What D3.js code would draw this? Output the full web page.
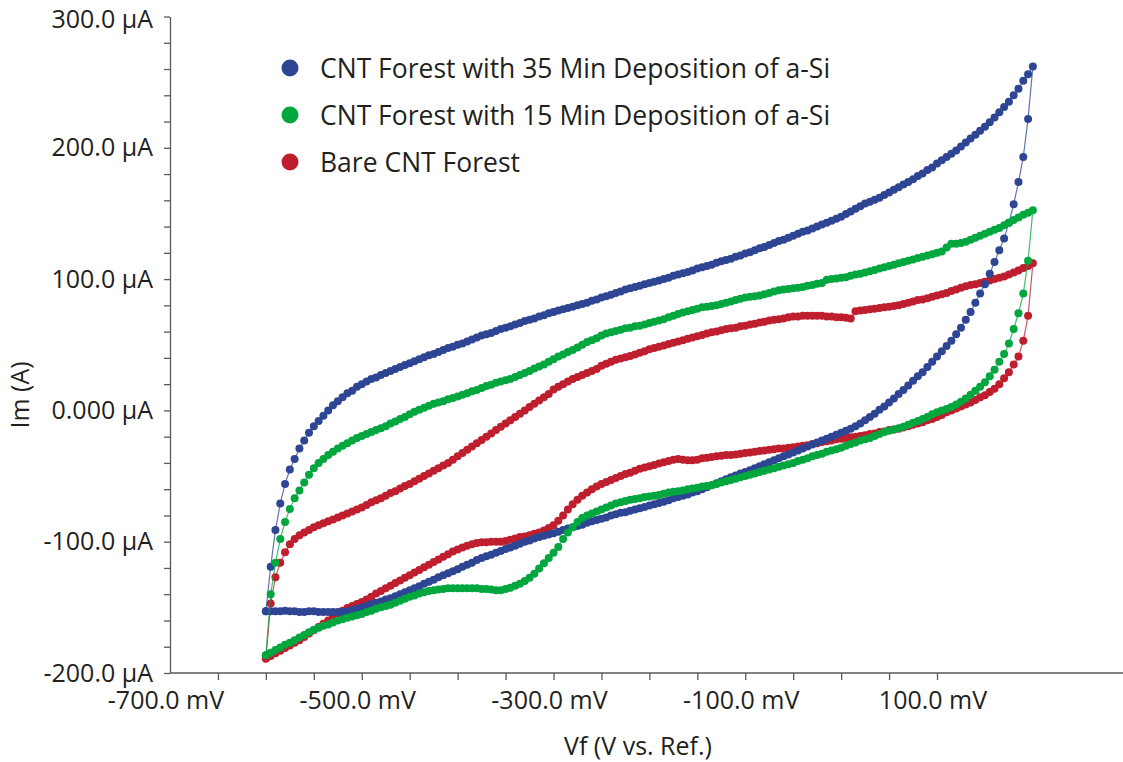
<!DOCTYPE html>
<html>
<head>
<meta charset="utf-8">
<script src="https://cdn.jsdelivr.net/npm/d3@7"></script>
<style>
  body { margin: 0; background: #fff; }
  text { font-family: "Open Sans", sans-serif; fill: #231f20; }
</style>
</head>
<body>
<div id="app"></div>
<script>
// scan potentials (mV), 5 mV steps: forward -600 -> 200, reverse 195 -> -600
const scanStep = 5
const sweepUp = d3.range(-600, 201, scanStep)
const sweepDown = d3.range(195, -601, -scanStep)

// currents (µA)
const blueUp = [
  -153, -119, -91, -71, -56, -45, -37, -29, -23, -17,
  -12, -8, -4, 0, 4, 7, 10, 13, 15, 18,
  20, 22, 24, 25, 27, 28.5, 30, 31.5, 33, 34.5,
  36, 37.5, 39, 40.5, 42, 43, 44.5, 46, 47.5, 48.5,
  50, 51, 52.5, 54, 55.5, 57, 58, 59, 60.5, 62,
  63, 64, 65.5, 66.5, 68, 69, 70, 71.5, 72.5, 74,
  75, 76, 77, 78, 79, 80, 81, 82, 83.5, 84.5,
  86, 87, 88, 89.5, 90.5, 92, 93, 94, 95, 96,
  97, 98, 99, 100, 101, 102.5, 103.5, 104.5, 105.5, 106.5,
  108, 109, 110, 111, 112.5, 113.5, 114.5, 115.5, 117, 118,
  119.5, 120.5, 122, 123.5, 124.5, 126, 127.5, 129, 130, 131.5,
  133, 134.5, 136, 137, 138.5, 140, 141.5, 143, 144.5, 146,
  147.5, 149.5, 151.5, 153.5, 155.5, 157.5, 159, 160.5, 162, 164,
  166, 168, 170, 172, 174, 176, 178.5, 180.5, 183, 185,
  188, 190.5, 193, 195.5, 198, 201, 204, 207, 210, 213,
  216, 219.5, 223, 227, 231, 235, 240, 245, 251, 256,
  262
]
const blueDown = [
  222, 193, 174, 157, 143, 131, 122, 113, 104, 96,
  89, 82, 75, 69, 63, 58, 53, 49, 45, 41,
  37, 33, 29, 26, 22.5, 19, 15.5, 12.5, 9, 6,
  3, 0.5, -2.5, -5, -7.5, -10, -12, -14, -15.5, -17,
  -18.5, -20, -21.5, -23, -24.5, -26, -27.5, -29, -30.5, -32,
  -33.5, -35, -36.5, -38, -39.5, -41, -42.5, -44, -45.5, -47,
  -48, -49.5, -51, -52.5, -54, -55.5, -57, -58.5, -60, -61.5,
  -62.5, -64, -65, -66, -67, -68.5, -69.5, -70.5, -71.5, -72.5,
  -73.5, -74.5, -75.5, -76.5, -77.5, -78, -79, -80, -81.5, -82.5,
  -83.5, -84.5, -85.5, -87, -88, -89, -90, -91, -92.5, -93.5,
  -94.5, -95.5, -96.5, -97.5, -99, -100, -101.5, -103, -104.5, -105.5,
  -107, -108.5, -110, -111, -112.5, -114, -116, -117.5, -119, -121,
  -122.5, -124, -125.5, -127, -129, -130.5, -132, -134, -135.5, -137,
  -138.5, -140, -141.5, -143, -144, -145.5, -146.5, -147.5, -149, -150,
  -151, -152, -153, -153.5, -153.5, -153.5, -153.5, -153.5, -153.5, -153,
  -153, -153.5, -153.5, -153, -153, -152.5, -153, -153, -153, -153
]

const greenUp = [
  -186.5, -140, -116, -98, -85, -75, -67, -61, -55, -49,
  -44, -40, -37, -34, -31.5, -29, -27, -25, -23, -21,
  -19.5, -18, -16.5, -15, -13.5, -12, -10, -8.5, -6.5, -5,
  -3, -1, 0.5, 2, 3.5, 5, 6, 7, 8.5, 9.5,
  10.5, 12, 13, 14.5, 15.5, 17, 18.5, 19.5, 21, 22,
  23, 24, 25.5, 27, 28.5, 30, 32, 33.5, 35, 37,
  39, 41, 42.5, 44.5, 46, 48, 50, 52, 53.5, 55,
  57, 58.5, 59.5, 60.5, 61.5, 62.5, 63, 64, 64.5, 65.5,
  66.5, 67.5, 68.5, 69.5, 71, 72, 73.5, 74.5, 75.5, 76.5,
  77.5, 78.5, 79, 79.5, 80, 81, 82, 83, 84, 85,
  86, 86.5, 87, 87.5, 88.5, 89.5, 90.5, 91.5, 92, 92.5,
  93, 93.5, 94, 95, 95.5, 96.5, 97, 99.5, 100, 100.5,
  101, 101.5, 102.5, 103.5, 104, 105, 106, 107, 108, 109,
  110, 111, 112, 113, 114, 115, 116, 117, 118, 119,
  120, 121, 124, 127, 127, 127.5, 128.5, 130, 131.5, 133,
  134.5, 136, 137.5, 139, 141, 143, 145, 147, 149, 150.5,
  152.5
]
const greenDown = [
  114, 89, 74, 62, 51, 43, 37, 31, 26, 21.5,
  18, 15, 12, 9, 6.5, 4.5, 2.5, 1, 0, -1.5,
  -3, -5, -6.5, -8, -9.5, -11, -12.5, -13.5, -14.5, -15.5,
  -16.5, -18, -19.5, -21, -22, -23, -24.5, -25.5, -27, -28.5,
  -29.5, -30.5, -31.5, -33, -34, -35, -36.5, -37.5, -38.5, -40,
  -41, -42, -43, -44, -45, -46, -47, -48, -49, -50,
  -51, -52, -53, -54, -55, -56, -57, -57.5, -58, -59,
  -59.5, -60, -61, -61.5, -62, -62.5, -63.5, -64.5, -65, -65.5,
  -66, -67, -67.5, -68, -69, -70, -71, -72.5, -74, -75.5,
  -77, -78.5, -80, -82, -85, -89, -93, -98, -104, -108.5,
  -112.5, -116.5, -120.5, -124.5, -127.5, -130, -132, -133.5, -135, -136,
  -137, -137, -136.5, -136, -136, -135.5, -135.5, -135.5, -135.5, -135.5,
  -135.5, -135.5, -136, -136.5, -137, -137.5, -138.5, -139.5, -141, -142,
  -143.5, -145, -146.5, -148, -149, -150, -151, -152.5, -153.5, -155,
  -156, -157, -158, -159, -160, -161.5, -163, -164, -165.5, -167,
  -169, -171, -173, -175, -177, -178.5, -180.5, -182.5, -184.5, -186.5
]

const redUp = [
  -189, -147, -127, -116, -108, -102, -98, -95, -93, -91,
  -89, -87.5, -86, -84.5, -83, -81.5, -80, -78.5, -77, -75.5,
  -74, -72, -70, -68.5, -67, -65, -63, -61.5, -59.5, -57.5,
  -56, -54, -52, -50, -48, -46, -44, -42, -40, -37.5,
  -35, -32.5, -30, -27.5, -25, -22.5, -20, -17.5, -15, -12.5,
  -10, -7.5, -5, -2.5, 0, 2.5, 5, 7.5, 10, 12.5,
  16, 18, 20, 22, 24, 25.5, 27, 28.5, 30, 31.5,
  34, 35.5, 37, 38.5, 39.5, 40.5, 41.5, 42.5, 44, 45,
  46.5, 47.5, 48.5, 49.5, 50.5, 51.5, 52.5, 53.5, 54.5, 55.5,
  56.5, 57.5, 58.5, 59.5, 60, 61, 62, 62.5, 63, 64,
  64.5, 65.5, 66, 67, 67.5, 68.5, 69, 69.5, 70, 71,
  71.5, 71.5, 72, 72, 72, 72, 72, 71.5, 71.5, 71,
  71, 70.5, 70, 75.5, 76, 76.5, 77, 77.5, 78, 78.5,
  79, 79.5, 80, 81, 82, 83, 84, 84.5, 85.5, 86.5,
  87.5, 88.5, 89.5, 91, 92, 93.5, 94.5, 95.5, 96, 97,
  98, 99, 100, 101, 102, 103.5, 105, 106.5, 108.5, 110,
  112
]
const redDown = [
  72, 53, 41, 35, 29, 24.5, 20, 16.5, 14, 11.5,
  10, 8, 6, 4.5, 3, 1.5, 0, -1.5, -3.5, -5,
  -6.5, -7.5, -9, -10, -11, -12, -13, -14, -14.5, -15,
  -16, -16.5, -17.5, -18, -19, -19.5, -20, -20.5, -21, -21.5,
  -22, -23, -23.5, -24, -25, -25.5, -26.5, -27, -27.5, -28,
  -28.5, -29, -29, -29.5, -30, -30.5, -31, -31.5, -32, -32.5,
  -33, -33.5, -34, -34, -34.5, -35, -35.5, -36, -36.5, -37.5,
  -38, -38, -37.5, -37, -37.5, -38.5, -39.5, -40.5, -41.5, -42.5,
  -43.5, -44.5, -46, -47.5, -48.5, -50, -51.5, -53, -54.5, -56,
  -58, -60, -62.5, -65, -68, -71.5, -75.5, -80, -84, -87.5,
  -89.5, -91.5, -93, -94, -95, -96, -96.5, -97.5, -98.5, -99.5,
  -100, -100, -100, -100.5, -100.5, -101, -102, -103, -104.5, -106,
  -107.5, -109.5, -111.5, -113.5, -115.5, -117.5, -119.5, -121.5, -123.5, -125.5,
  -127.5, -129.5, -131.5, -133.5, -135.5, -137.5, -139.5, -142, -144, -146,
  -147.5, -149, -150.5, -152.5, -155, -157.5, -160, -162.5, -165, -167.5,
  -170, -172.5, -175, -177, -179, -181, -183, -185, -187, -189
]

const seriesNames = [
  'CNT Forest with 35 Min Deposition of a-Si',
  'CNT Forest with 15 Min Deposition of a-Si',
  'Bare CNT Forest'
]
const seriesColors = ['#2e4593', '#00a63e', '#be1e2d']

// axis ticks
const xMinorTicks = d3.range(-650, 101, 50)
const xLabelTicks = [-700, -500, -300, -100, 100]
const xTickLabels = ['-700.0 mV', '-500.0 mV', '-300.0 mV', '-100.0 mV', '100.0 mV']
const yMinorTicks = d3.range(-200, 301, 20)
const yLabelTicks = [300, 200, 100, 0, -100, -200]
const yTickLabels = ['300.0 µA', '200.0 µA', '100.0 µA', '0.000 µA', '-100.0 µA', '-200.0 µA']

const width = 1123, height = 762
const axisColor = '#58595b'
const tickFont = 25

const svg = d3.select('#app')
  .append('svg')
    .attr('width', width)
    .attr('height', height)

const x = d3.scaleLinear().domain([-700, 100]).range([170, 937])
const y = d3.scaleLinear().domain([-200, 300]).range([673, 16.5])

// y axis
const yLab = new Map(yLabelTicks.map((v, k) => [v, yTickLabels[k]]))
const yAxis = svg.append('g')
  .attr('transform', `translate(${x(-700)},0)`)
  .call(d3.axisLeft(y)
    .tickValues(yMinorTicks)
    .tickSize(6)
    .tickSizeOuter(0)
    .tickPadding(11)
    .tickFormat(d => yLab.get(d) || ''))
yAxis.select('.domain').attr('stroke', axisColor).attr('stroke-width', 1.3)
yAxis.selectAll('.tick line').attr('stroke', axisColor).attr('stroke-width', 1.3)
yAxis.selectAll('.tick text')
  .attr('font-family', '"Open Sans", sans-serif')
  .attr('font-size', tickFont)
  .attr('fill', '#231f20')
// top label sits right at the edge, nudge it down a touch
yAxis.selectAll('.tick text').filter(d => d === 300).attr('dy', '0.42em')

// x axis: ticks end at 100 mV, line runs to the edge
const xAxis = svg.append('g')
  .attr('transform', `translate(0,${y(-200)})`)
  .call(d3.axisBottom(x)
    .tickValues(xMinorTicks)
    .tickSize(7)
    .tickSizeOuter(0)
    .tickFormat(''))
xAxis.select('.domain').remove()
xAxis.selectAll('.tick line').attr('stroke', axisColor).attr('stroke-width', 1.3)
xAxis.append('line')
  .attr('x1', x(-700)).attr('x2', width)
  .attr('stroke', axisColor).attr('stroke-width', 1.3)

svg.append('g')
  .selectAll('text')
  .data(xLabelTicks)
  .join('text')
    .attr('x', d => x(d) - 4)
    .attr('y', y(-200) + 36)
    .attr('text-anchor', 'middle')
    .attr('font-size', tickFont)
    .text((d, k) => xTickLabels[k])

// axis titles
svg.append('text')
  .attr('x', 638)
  .attr('y', 755)
  .attr('text-anchor', 'middle')
  .attr('font-size', 25)
  .text('Vf (V vs. Ref.)')

svg.append('text')
  .attr('transform', 'translate(29,395) rotate(-90)')
  .attr('text-anchor', 'middle')
  .attr('font-size', 25)
  .text('Im (A)')

// curves
const curves = [
  { up: blueUp, down: blueDown },
  { up: greenUp, down: greenDown },
  { up: redUp, down: redDown }
].map((c, k) => ({
  name: seriesNames[k],
  color: seriesColors[k],
  points: sweepUp.map((v, j) => ({ v, i: c.up[j] }))
    .concat(sweepDown.map((v, j) => ({ v, i: c.down[j] })))
}))

const line = d3.line().x(d => x(d.v)).y(d => y(d.i))

// draw red first, green on top
const drawOrder = [2, 0, 1]
const plot = svg.append('g')
drawOrder.forEach(k => {
  const c = curves[k]
  const g = plot.append('g')
  g.append('path')
    .attr('d', line(c.points))
    .attr('fill', 'none')
    .attr('stroke', c.color)
    .attr('stroke-opacity', 0.75)
    .attr('stroke-width', 1.2)
  g.selectAll('circle')
    .data(c.points)
    .join('circle')
      .attr('cx', d => x(d.v))
      .attr('cy', d => y(d.i))
      .attr('r', 4)
      .attr('fill', c.color)
})

// legend
const legend = svg.append('g')
  .selectAll('g')
  .data(curves)
  .join('g')
    .attr('transform', (d, k) => `translate(290,${68 + k * 47})`)
legend.append('circle')
  .attr('r', 8.5)
  .attr('fill', d => d.color)
legend.append('text')
  .attr('x', 30)
  .attr('dy', '0.36em')
  .attr('font-size', 26.5)
  .text(d => d.name)
</script>
</body>
</html>
